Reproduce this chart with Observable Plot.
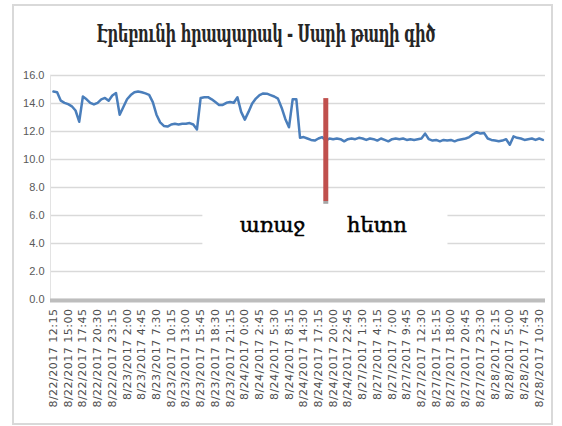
<!DOCTYPE html>
<html><head><meta charset="utf-8">
<script src="https://cdn.jsdelivr.net/npm/d3@7"></script>
<script src="https://cdn.jsdelivr.net/npm/@observablehq/plot@0.6"></script>
<style>
body{margin:0;background:#fff;}
#wrap{position:relative;width:562px;height:426px;overflow:hidden;background:#fff;}
#frame{position:absolute;left:12px;top:4px;width:541px;height:421px;border:2px solid #d9d9d9;box-sizing:border-box;pointer-events:none;}
#title{position:absolute;left:0;width:532px;top:23px;text-align:center;font-family:"DejaVu Serif";font-weight:bold;font-size:18px;color:#262626;transform:scale(0.82,1.3);transform-origin:266px 50%;letter-spacing:-0.5px;white-space:nowrap;}
#chart{position:absolute;left:0;top:0;}
</style></head>
<body>
<div id="wrap">
  <div id="frame"></div>
  <div id="title">Էրեբունի հրապարակ - Սարի թաղի գիծ</div>
  <div id="chart"></div>
</div>
<script>
const tickLabels = ["8/22/2017 12:15","8/22/2017 15:00","8/22/2017 17:45","8/22/2017 20:30","8/22/2017 23:15","8/23/2017 2:00","8/23/2017 4:45","8/23/2017 7:30","8/23/2017 10:15","8/23/2017 13:00","8/23/2017 15:45","8/23/2017 18:30","8/23/2017 21:15","8/24/2017 0:00","8/24/2017 2:45","8/24/2017 5:30","8/24/2017 8:15","8/24/2017 14:30","8/24/2017 17:15","8/24/2017 20:00","8/24/2017 22:45","8/27/2017 1:30","8/27/2017 4:15","8/27/2017 7:00","8/27/2017 9:45","8/27/2017 12:30","8/27/2017 15:15","8/27/2017 18:00","8/27/2017 20:45","8/27/2017 23:30","8/28/2017 2:15","8/28/2017 5:00","8/28/2017 7:45","8/28/2017 10:30"];
const pointsPerLabel = 4;
const values = [14.85,14.8,14.2,14.05,13.95,13.8,13.5,12.7,14.5,14.3,
14.05,13.93,14.05,14.3,14.4,14.2,14.57,14.75,13.2,13.75,
14.3,14.6,14.8,14.86,14.8,14.72,14.62,14.1,13.2,12.65,
12.4,12.35,12.5,12.55,12.5,12.55,12.55,12.6,12.5,12.15,
14.4,14.45,14.45,14.3,14.1,13.9,13.9,14.05,14.1,14.05,
14.45,13.4,12.85,13.4,14.0,14.35,14.6,14.72,14.7,14.6,
14.5,14.35,13.7,12.9,12.3,14.3,14.3,11.55,11.6,11.5,
11.4,11.35,11.5,11.6,11.35,11.5,11.45,11.5,11.45,11.3,
11.45,11.5,11.45,11.55,11.5,11.4,11.5,11.45,11.35,11.5,
11.4,11.3,11.45,11.5,11.45,11.5,11.4,11.45,11.4,11.45,
11.5,11.85,11.45,11.35,11.4,11.3,11.4,11.35,11.4,11.3,
11.4,11.45,11.5,11.6,11.8,11.95,11.85,11.9,11.5,11.4,
11.35,11.3,11.35,11.45,11.05,11.65,11.55,11.5,11.4,11.45,
11.5,11.4,11.5,11.4];
const yTicks = [0,2,4,6,8,10,12,14,16];
const dividerIndex = 74;
const dividerRange = [7.0, 14.35];
const annotations = [{label:"առաջ", i:59.5, v:5.3},{label:"հետո", i:87.9, v:5.3}];
const maskBox = [{i1:40.6, i2:107.2, v1:3.7, v2:6.75}];

const data = values.map((v,i)=>({i, v}));
const tickIdx = tickLabels.map((_,k)=>k*pointsPerLabel);

const plot = Plot.plot({
  width: 562, height: 426,
  marginLeft: 50, marginRight: 17, marginTop: 75, marginBottom: 127,
  style: {background: "transparent", overflow: "visible"},
  x: {domain: [-0.8, 133.7], axis: null},
  y: {domain: [0, 16], axis: null},
  marks: [
    Plot.gridY(yTicks, {stroke: "#d9d9d9", strokeOpacity: 1, strokeWidth: 1.6}),
    Plot.ruleX([-0.8], {y1: 0, y2: 16, stroke: "#e3e3e3", strokeWidth: 1}),
    Plot.rect(maskBox, {x1: "i1", x2: "i2", y1: "v1", y2: "v2", fill: "white"}),
    Plot.ruleY([0], {stroke: "#bdbdbd", strokeWidth: 4, dy: 1}),
    Plot.axisY({ticks: yTicks, tickFormat: d => d.toFixed(1), tickSize: 0, tickPadding: 6, fontSize: 11, fill: "#595959", fontFamily: "Liberation Sans"}),
    Plot.axisX({ticks: tickIdx, tickFormat: d => tickLabels[d / pointsPerLabel], tickRotate: -90, tickSize: 0, tickPadding: 9, fontSize: 11, fill: "#4d4d4d", fontFamily: "DejaVu Sans"}),
    Plot.lineY(data, {x: "i", y: "v", stroke: "#4a7ebb", strokeWidth: 2.5, strokeLinejoin: "round"}),
    Plot.ruleX([dividerIndex], {y1: dividerRange[0], y2: dividerRange[1], stroke: "#c0504d", strokeWidth: 5}),
    Plot.ruleX([dividerIndex], {y1: dividerRange[0] - 0.2, y2: dividerRange[0], stroke: "#a6a6a6", strokeWidth: 5}),
    Plot.text(annotations, {x: "i", y: "v", text: "label", fontSize: 21, fontFamily: "DejaVu Serif", fill: "#000", stroke: "#000", strokeWidth: 0.5})
  ]
});
document.getElementById("chart").appendChild(plot);
d3.select(plot).selectAll("g[aria-label='x-axis tick label'] text").style("letter-spacing", "0.5px");
</script>
</body></html>
